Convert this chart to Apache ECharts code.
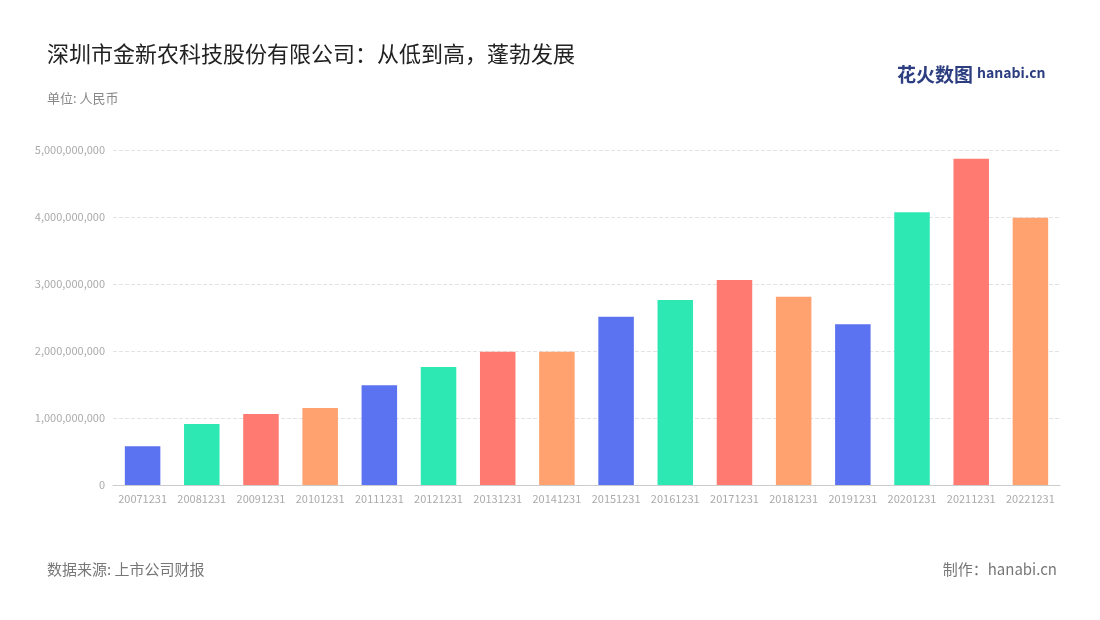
<!DOCTYPE html>
<html><head><meta charset="utf-8">
<script src="https://cdn.jsdelivr.net/npm/echarts@6/dist/echarts.min.js"></script>
<style>body{margin:0}#c{width:1100px;height:620px}</style></head>
<body><div id="c"></div>
<script>
const categories=['20071231','20081231','20091231','20101231','20111231','20121231','20131231','20141231','20151231','20161231','20171231','20181231','20191231','20201231','20211231','20221231'];
const values=[580000000,910000000,1060000000,1150000000,1490000000,1760000000,1990000000,1990000000,2510000000,2760000000,3060000000,2810000000,2400000000,4070000000,4870000000,3990000000];
const palette=['#5b73f0','#2ee8b4','#ff7b72','#ffa270'];
const F='"Noto Sans CJK SC","Noto Sans",sans-serif';
const chart=echarts.init(document.getElementById('c'));
chart.setOption({
 textStyle:{fontFamily:F},
 title:[{text:'深圳市金新农科技股份有限公司：从低到高，蓬勃发展',left:42,top:38,textStyle:{fontSize:22,fontWeight:'normal',color:'#222',fontFamily:F}},
  {text:'单位: 人民币',left:42,top:87,textStyle:{fontSize:13,fontWeight:'normal',color:'#888',fontFamily:F}},
  {text:'数据来源: 上市公司财报',left:42,top:557,textStyle:{fontSize:15,fontWeight:'normal',color:'#777',fontFamily:F}},
  {text:'制作：hanabi.cn',right:38,top:557,textStyle:{fontSize:15,fontWeight:'normal',color:'#777',fontFamily:F}},
  {text:'花火数图',left:892,top:60,textStyle:{fontSize:19,fontWeight:'bold',color:'#2c3e80',fontFamily:F}},
  {text:'hanabi.cn',left:972,top:61,textStyle:{fontSize:14,fontWeight:'bold',color:'#2c3e80',fontFamily:F}}],
 grid:{left:113,right:40,top:150,bottom:135},
 xAxis:{type:'category',data:categories,axisTick:{show:false},axisLine:{lineStyle:{color:'#ccc'}},axisLabel:{color:'#aaa',fontSize:11,interval:0}},
 yAxis:{type:'value',min:0,max:5000000000,interval:1000000000,axisLine:{show:false},axisTick:{show:false},
  axisLabel:{color:'#aaa',fontSize:11,formatter:v=>v.toLocaleString('en-US')},
  splitLine:{lineStyle:{type:'dashed',color:'#e3e3e3'}}},
 series:[{type:'bar',data:values,barWidth:'60%',itemStyle:{color:p=>palette[p.dataIndex%4]}}]
});
</script></body></html>
